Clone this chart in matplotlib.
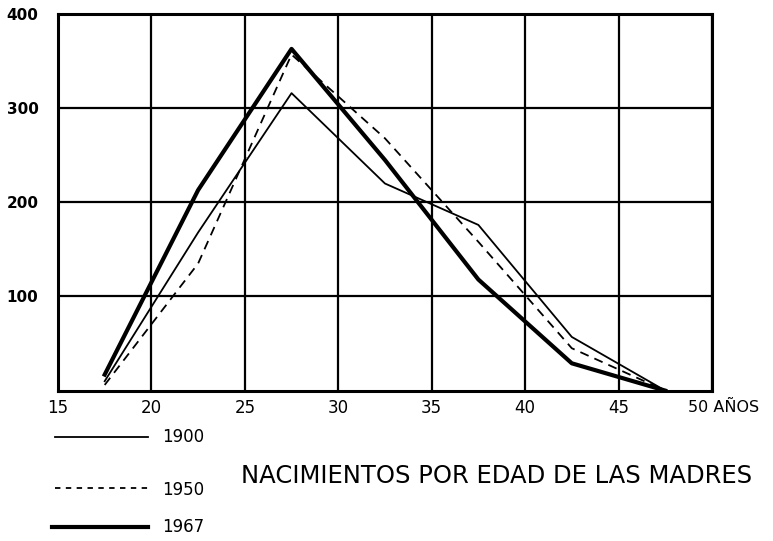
import matplotlib.pyplot as plt

# edades (punto medio de cada grupo quinquenal)
edades = [17.5, 22.5, 27.5, 32.5, 37.5, 42.5, 47.5]
n1900 = [10, 168, 316, 220, 176, 57, 0]
n1950 = [6, 135, 357, 268, 158, 45, 0]
n1967 = [17, 213, 363, 245, 118, 29, 0]

xticks = [15, 20, 25, 30, 35, 40, 45, 50]
xlabels = ["15", "20", "25", "30", "35", "40", "45", ""]
yticks = [100, 200, 300, 400]

fig = plt.figure(figsize=(7.73, 5.41), dpi=100)
ax = fig.add_axes([0.075, 0.278, 0.846, 0.696])

ax.plot(edades, n1900, color="black", lw=1.3)
ax.plot(edades, n1950, color="black", lw=1.3, ls=(0, (5, 3.5)))
ax.plot(edades, n1967, color="black", lw=3.0)

ax.set_xlim(15, 50)
ax.set_ylim(0, 400)
ax.set_xticks(xticks)
ax.set_xticklabels(xlabels, fontsize=12)
ax.set_yticks(yticks)
ax.set_yticklabels([str(v) for v in yticks], fontsize=11, fontweight="bold")
ax.tick_params(axis="x", length=0, pad=6)
ax.tick_params(axis="y", length=0, pad=14)
ax.grid(True, color="black", lw=1.6)
for s in ax.spines.values():
    s.set_linewidth(2.2)

# "50 AÑOS" al final del eje
fig.text(688 / 773, 1 - 407 / 541, "50 AÑOS", fontsize=11.5, va="center", ha="left")

# leyenda a mano
tf = fig.transFigure
fig.lines.extend([
    plt.Line2D([55 / 773, 148 / 773], [1 - 437 / 541] * 2, color="black", lw=1.3, transform=tf),
    plt.Line2D([55 / 773, 148 / 773], [1 - 488 / 541] * 2, color="black", lw=1.3, ls=(0, (3, 3)), transform=tf),
    plt.Line2D([52 / 773, 148 / 773], [1 - 527 / 541] * 2, color="black", lw=3.0, transform=tf),
])
fig.text(162 / 773, 1 - 437 / 541, "1900", fontsize=12, va="center")
fig.text(162 / 773, 1 - 490 / 541, "1950", fontsize=12, va="center")
fig.text(162 / 773, 1 - 527 / 541, "1967", fontsize=12, va="center")
fig.text(241 / 773, 1 - 476 / 541, "NACIMIENTOS POR EDAD DE LAS MADRES", fontsize=17.5, va="center")

fig.savefig("out.png", dpi=100)
